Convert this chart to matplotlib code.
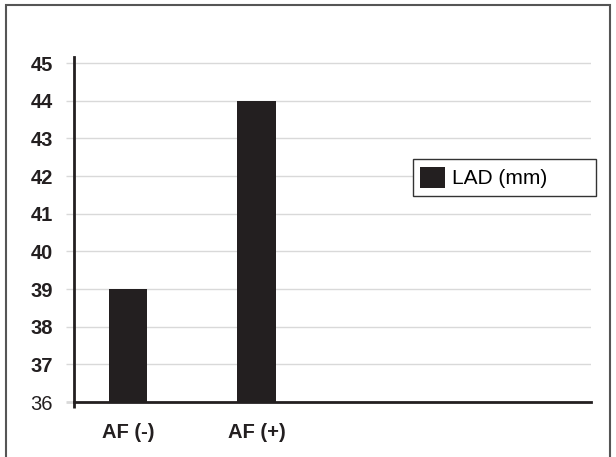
import matplotlib
matplotlib.use('Agg')
import matplotlib.pyplot as plt
from matplotlib.patches import Rectangle

plt.rcParams['font.family'] = ['Liberation Sans', 'DejaVu Sans']

categories = ['AF (-)', 'AF (+)']
lad_values = [39.0, 44.0]
series_name = 'LAD (mm)'
y_ticks = [36, 37, 38, 39, 40, 41, 42, 43, 44, 45]

dark = '#231f20'
grid_col = '#d9d9d9'

fig = plt.figure(figsize=(6.16, 4.57), dpi=100)
W, H = 616, 457

# axes box in pixel terms of the reference
left, right, top, bottom = 74, 591, 57, 402
ax = fig.add_axes([left / W, (H - bottom) / H, (right - left) / W, (bottom - top) / H])

x = list(range(len(categories)))
ax.bar(x, [v - 36 for v in lad_values], bottom=36, width=0.296, color=dark,
       label=series_name, zorder=3)

ax.set_xlim(-0.42, 3.603)
ax.set_ylim(36, 45.16)
ax.set_yticks(y_ticks)
ax.yaxis.grid(True, color=grid_col, linewidth=1, zorder=0)
ax.set_axisbelow(True)

for s in ['top', 'right']:
    ax.spines[s].set_visible(False)
ax.spines['left'].set_color(dark)
ax.spines['bottom'].set_color(dark)
ax.spines['left'].set_linewidth(2)
ax.spines['bottom'].set_linewidth(2)

ax.tick_params(axis='y', length=6, width=1, color=grid_col, pad=9,
               labelsize=14.5, labelcolor=dark)
ax.yaxis.get_major_ticks()[0].tick1line.set_color(dark)
ax.yaxis.get_major_ticks()[0].tick1line.set_markeredgewidth(2)
for lbl, t in zip(ax.get_yticklabels(), y_ticks):
    lbl.set_fontweight('normal' if t == 36 else 'bold')

ax.set_xticks(x)
ax.set_xticklabels(categories, fontweight='bold')
ax.tick_params(axis='x', length=0, pad=15, labelsize=14.5, labelcolor=dark)
ax.set_xticks([-0.42], minor=True)
ax.tick_params(axis='x', which='minor', length=4, width=2, color=dark)

leg = ax.legend(loc='center', bbox_to_anchor=(413 / W, (H - 198) / H, 183 / W, 41 / H),
                bbox_transform=fig.transFigure, mode='expand', fontsize=15,
                handlelength=1.2, handleheight=1.2, handletextpad=0.3,
                borderpad=0.35, fancybox=False, framealpha=1, borderaxespad=0)
leg.get_frame().set_edgecolor('#333333')
leg.get_frame().set_linewidth(1)

# outer frame
fig.patches.append(Rectangle((6 / W, -0.05), (610 - 6) / W, (H - 5) / H + 0.05,
                             transform=fig.transFigure, fill=False,
                             edgecolor='#555555', linewidth=1.5))

fig.savefig('out.png', dpi=100)
